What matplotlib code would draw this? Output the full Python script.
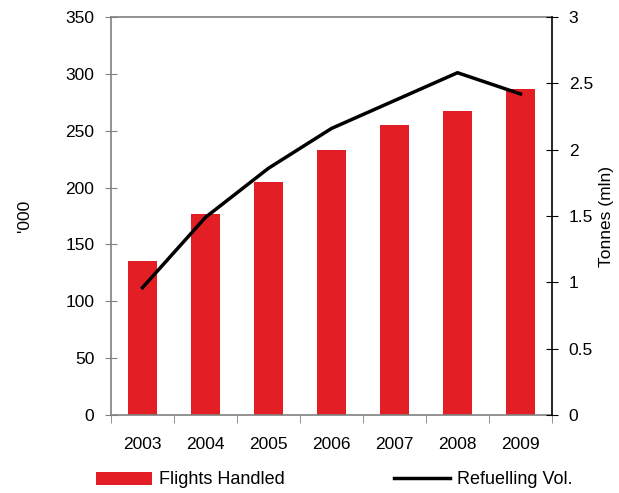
import matplotlib
matplotlib.use('Agg')
import matplotlib.pyplot as plt
import numpy as np

plt.rcParams['font.family'] = ['Liberation Sans', 'DejaVu Sans']

years = ['2003', '2004', '2005', '2006', '2007', '2008', '2009']
flights = [135, 177, 205, 233, 255, 267, 287]          # '000
refuel = [0.96, 1.49, 1.86, 2.16, 2.37, 2.58, 2.42]     # tonnes, mln

red = '#E31E24'
grey = '#808080'
fs = 12.5

fig = plt.figure(figsize=(6.19, 4.93), dpi=100)
ax = fig.add_axes([111 / 619, 1 - 415 / 493, 441 / 619, 398 / 493])
x = np.arange(len(years))

ax.bar(x, flights, width=0.46, color=red, label='Flights Handled', zorder=2)
ax.set_xlim(-0.5, len(years) - 0.5)
ax.set_ylim(0, 350)
ax.set_yticks(np.arange(0, 351, 50))
ax.set_xticks(x)
ax.set_xticklabels(years)
ax.set_xticks(np.arange(-0.5, len(years), 1), minor=True)
ax.tick_params(axis='x', which='major', length=0, pad=16, labelsize=fs)
ax.tick_params(axis='x', which='minor', length=6, direction='out', color=grey)
ax.tick_params(axis='y', length=8, direction='inout', color=grey, labelsize=fs, pad=8)
for s in ['left', 'bottom', 'top']:
    ax.spines[s].set_color(grey)
    ax.spines[s].set_linewidth(1.2)
ax.spines['right'].set_visible(False)
ax.set_ylabel("'000", fontsize=fs, rotation=90, labelpad=24)

ax2 = ax.twinx()
ax2.plot(x, refuel, color='black', lw=2.5, label='Refuelling Vol.', zorder=3)
ax2.set_ylim(0, 3)
ax2.set_yticks([0, 0.5, 1, 1.5, 2, 2.5, 3])
ax2.set_yticklabels(['0', '0.5', '1', '1.5', '2', '2.5', '3'])
ax2.tick_params(axis='y', length=8, direction='inout', color='black', labelsize=fs, pad=8)
for s in ['left', 'bottom', 'top']:
    ax2.spines[s].set_visible(False)
ax2.spines['right'].set_color('black')
ax2.spines['right'].set_linewidth(1.2)
ax2.set_ylabel('Tonnes (mln)', fontsize=fs, rotation=90, labelpad=4)

h1, l1 = ax.get_legend_handles_labels()
h2, l2 = ax2.get_legend_handles_labels()
fig.legend(h1 + h2, l1 + l2, loc='center', bbox_to_anchor=(0.54, 1 - 480 / 493),
           ncol=2, frameon=False, fontsize=13, handlelength=3.1,
           columnspacing=6.0, handletextpad=0.4)

fig.savefig('out.png', dpi=100, facecolor='white')
